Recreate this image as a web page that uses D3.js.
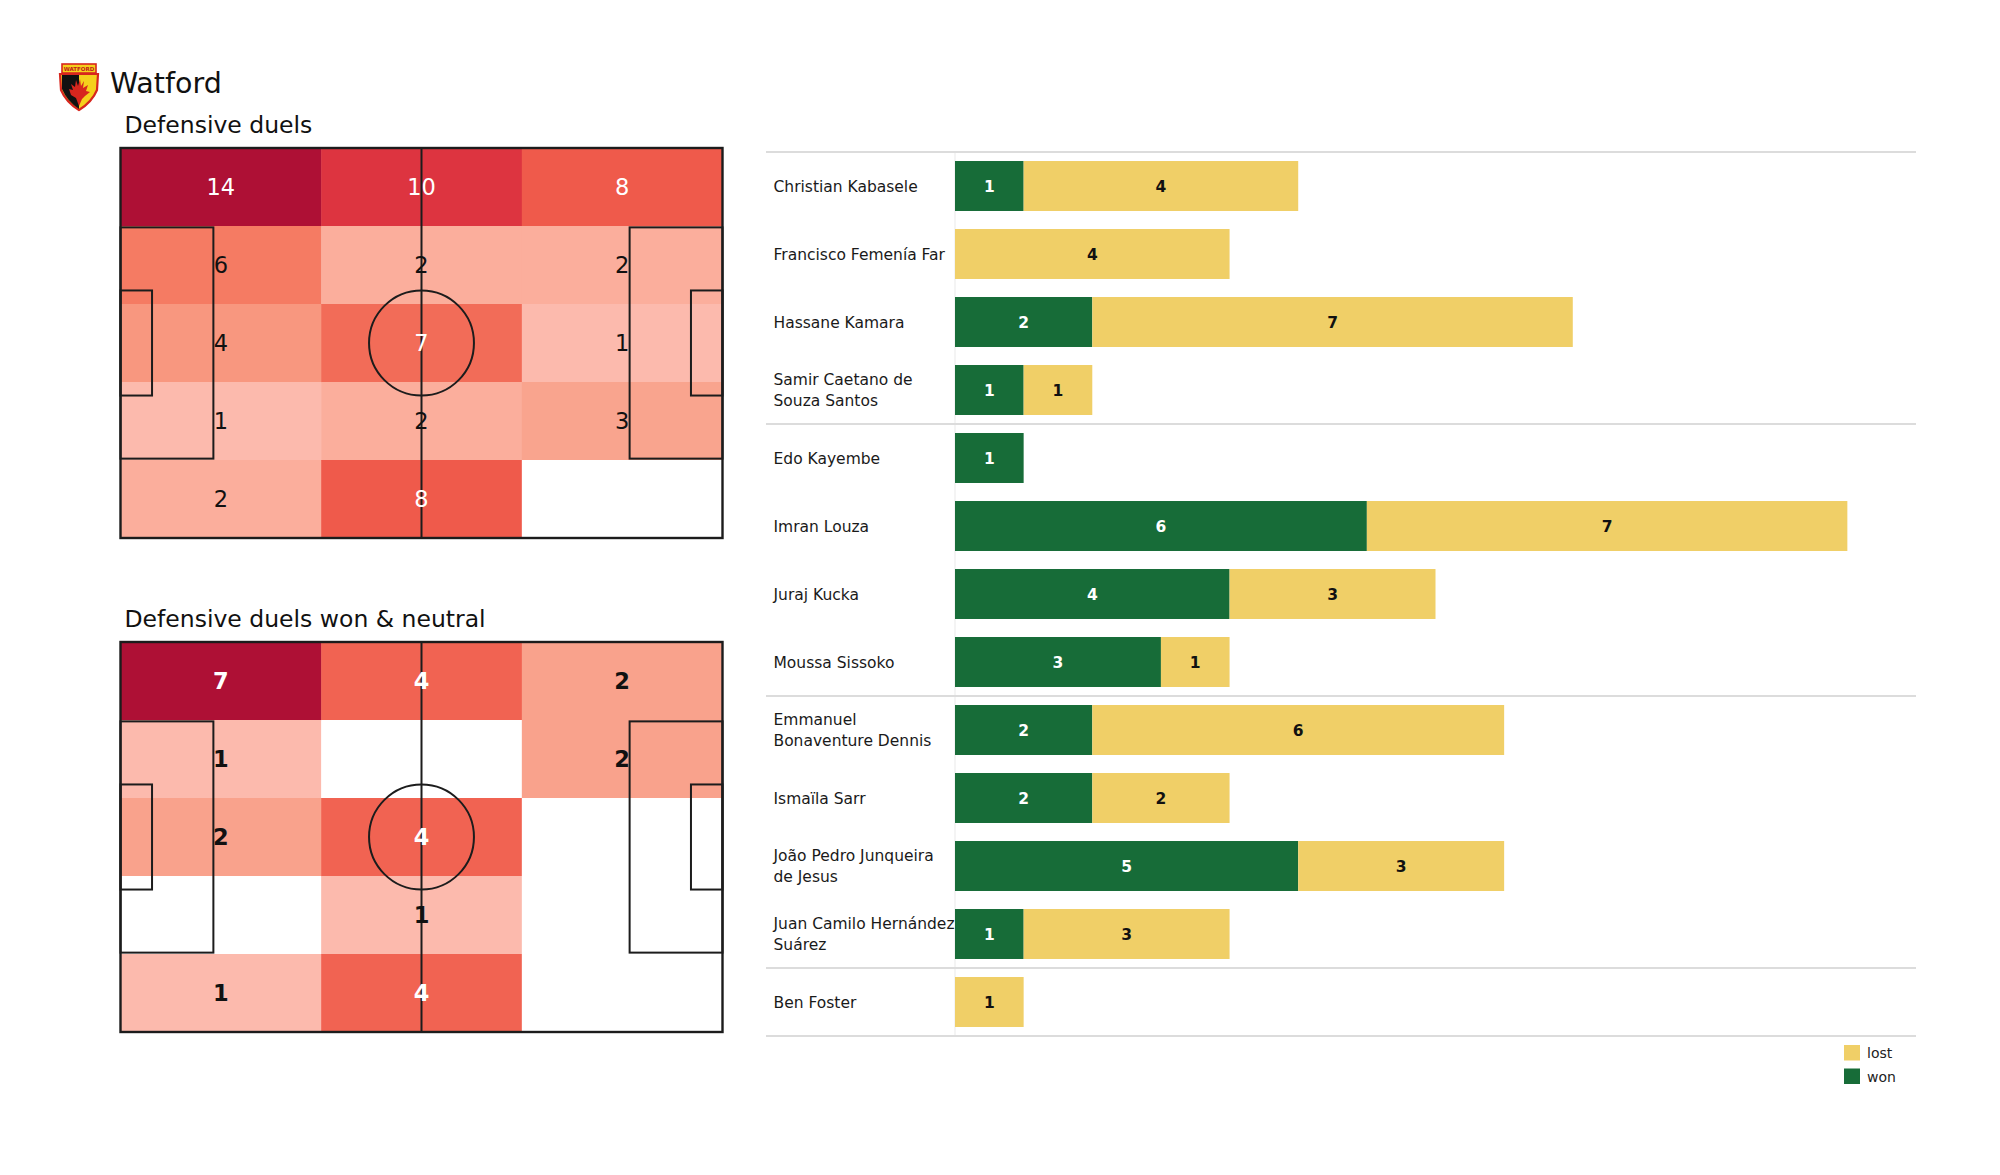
<!DOCTYPE html>
<html>
<head>
<meta charset="utf-8">
<script src="https://cdn.jsdelivr.net/npm/d3@7"></script>
<style>
  html, body { margin: 0; padding: 0; background: #ffffff; }
  svg { display: block; font-family: "DejaVu Sans", sans-serif; }
</style>
</head>
<body>
<svg id="chart" width="2000" height="1175"></svg>
<script>
// ---------------- DATA ----------------
const teamName = "Watford";
const pitch1Title = "Defensive duels";
const pitch2Title = "Defensive duels won & neutral";

// 5 rows (top to bottom) x 3 columns (left to right)
const defensiveDuels = [
  [14, 10, 8],
  [6, 2, 2],
  [4, 7, 1],
  [1, 2, 3],
  [2, 8, 0]
];
const duelsWonNeutral = [
  [7, 4, 2],
  [1, 0, 2],
  [2, 4, 0],
  [0, 1, 0],
  [1, 4, 0]
];

const players = [
  "Christian Kabasele",
  "Francisco Femenía Far",
  "Hassane Kamara",
  "Samir Caetano de Souza Santos",
  "Edo Kayembe",
  "Imran Louza",
  "Juraj Kucka",
  "Moussa Sissoko",
  "Emmanuel Bonaventure Dennis",
  "Ismaïla Sarr",
  "João Pedro Junqueira de Jesus",
  "Juan Camilo Hernández Suárez",
  "Ben Foster"
];
const playerLabelLines = [
  ["Christian Kabasele"],
  ["Francisco Femenía Far"],
  ["Hassane Kamara"],
  ["Samir Caetano de", "Souza Santos"],
  ["Edo Kayembe"],
  ["Imran Louza"],
  ["Juraj Kucka"],
  ["Moussa Sissoko"],
  ["Emmanuel", "Bonaventure Dennis"],
  ["Ismaïla Sarr"],
  ["João Pedro Junqueira", "de Jesus"],
  ["Juan Camilo Hernández", "Suárez"],
  ["Ben Foster"]
];
const wonValues  = [1, 0, 2, 1, 1, 6, 4, 3, 2, 2, 5, 1, 0];
const lostValues = [4, 4, 7, 1, 0, 7, 3, 1, 6, 2, 3, 3, 1];
const positionGroupSizes = [4, 4, 4, 1];
const seriesKeys = ["won", "lost"];
const legendLabels = ["lost", "won"];
const xAxisMax = 14;

// ---------------- STYLE ----------------
const GREEN = "#176c38";
const YELLOW = "#f0cf67";
const heatStops = [0, 0.077, 0.154, 0.231, 0.385, 0.462, 0.538, 0.692, 1];
const heatColors = ["#fcbaad", "#fbae9c", "#f9a48e", "#f8977f", "#f57b63", "#f26c58", "#ef5a4b", "#dd3440", "#ae1035"];
const heat = d3.scaleLinear().domain(heatStops).range(heatColors).interpolate(d3.interpolateRgb).clamp(true);

const svg = d3.select("#chart");

// ---------------- LOGO ----------------
const logo = svg.append("g").attr("transform", "translate(59,62)");
logo.append("path")
  .attr("d", "M1,12 L39,12 L38,28 Q33,40 20,48 Q7,40 2,28 Z")
  .attr("fill", "#f5d01c").attr("stroke", "#d7261e").attr("stroke-width", 2.2);
logo.append("path")
  .attr("d", "M3,13 L20,13 L20,47 Q8,39 3,27 Z")
  .attr("fill", "#111");
logo.append("path")
  .attr("d", "M20,44 L17,36 L12,33 L10,27 L14,28 L12,22 L16,25 L17,18 L19,24 L21,17 L22,24 L25,19 L24,26 L29,23 L27,29 L31,30 L26,34 L23,37 Z")
  .attr("fill", "#d7261e");
logo.append("rect").attr("x", 3).attr("y", 2).attr("width", 34).attr("height", 9)
  .attr("fill", "#f5d01c").attr("stroke", "#d7261e").attr("stroke-width", 1.6);
logo.append("text").attr("x", 20).attr("y", 9).attr("text-anchor", "middle")
  .attr("font-size", 5.5).attr("font-weight", "bold").attr("fill", "#c0201a").text("WATFORD");

svg.append("text").attr("x", 110).attr("y", 93).attr("font-size", 28.5).attr("fill", "#111").text(teamName);

// ---------------- PITCHES ----------------
function drawPitch(values, top, title, bold) {
  const g = svg.append("g");
  const x = d3.scaleLinear().domain([0, 105]).range([120.5, 722.5]);
  const y = d3.scaleLinear().domain([0, 68]).range([top, top + 390]);
  const nonZero = values.flat().filter(v => v > 0);
  const maxV = d3.max(nonZero), minV = d3.min(nonZero);
  const norm = v => (v - minV) / (maxV - minV);
  const colW = 105 / values[0].length, rowH = 68 / values.length;

  g.append("text").attr("x", 124.5).attr("y", top - 15).attr("font-size", 23.5).attr("fill", "#111").text(title);

  const cells = [];
  values.forEach((row, r) => row.forEach((v, c) => cells.push({ r, c, v })));

  g.selectAll("rect.cell").data(cells).join("rect")
    .attr("class", "cell")
    .attr("x", d => x(d.c * colW))
    .attr("y", d => y(d.r * rowH))
    .attr("width", d => x((d.c + 1) * colW) - x(d.c * colW) + 0.5)
    .attr("height", d => y((d.r + 1) * rowH) - y(d.r * rowH) + 0.5)
    .attr("fill", d => d.v > 0 ? heat(norm(d.v)) : "#ffffff");

  const stroke = "#1c1c1c";
  const addRect = (x0, y0, x1, y1, sw) => g.append("rect")
    .attr("x", x(x0)).attr("y", y(y0)).attr("width", x(x1) - x(x0)).attr("height", y(y1) - y(y0))
    .attr("fill", "none").attr("stroke", stroke).attr("stroke-width", sw || 2);

  addRect(0, 0, 105, 68, 2.4);
  g.append("line").attr("x1", x(52.5)).attr("x2", x(52.5)).attr("y1", y(0)).attr("y2", y(68))
    .attr("stroke", stroke).attr("stroke-width", 2);
  g.append("ellipse").attr("cx", x(52.5)).attr("cy", y(34))
    .attr("rx", x(9.15) - x(0)).attr("ry", y(9.15) - y(0))
    .attr("fill", "none").attr("stroke", stroke).attr("stroke-width", 2);
  addRect(0, 13.84, 16.2, 54.16);
  addRect(88.8, 13.84, 105, 54.16);
  addRect(0, 24.84, 5.5, 43.16);
  addRect(99.5, 24.84, 105, 43.16);

  g.selectAll("text.val").data(cells.filter(d => d.v > 0)).join("text")
    .attr("class", "val")
    .attr("x", d => x((d.c + 0.5) * colW))
    .attr("y", d => y((d.r + 0.5) * rowH))
    .attr("dy", "0.36em")
    .attr("text-anchor", "middle")
    .attr("font-size", 22.5)
    .attr("font-weight", bold ? "bold" : "normal")
    .attr("fill", d => norm(d.v) >= 0.42 ? "#ffffff" : "#111111")
    .text(d => d.v);
}

drawPitch(defensiveDuels, 148, pitch1Title, false);
drawPitch(duelsWonNeutral, 642, pitch2Title, true);

// ---------------- BAR CHART ----------------
const barData = players.map((p, i) => ({ player: p, won: wonValues[i], lost: lostValues[i] }));
const xb = d3.scaleLinear().domain([0, xAxisMax]).range([955, 1916]);
const yb = d3.scaleBand().domain(players).range([152, 1036]).paddingInner(0.265).paddingOuter(0.1325);
const colorB = d3.scaleOrdinal().domain(seriesKeys).range([GREEN, YELLOW]);

const bars = svg.append("g");
// faint axis line
bars.append("line").attr("x1", xb(0)).attr("x2", xb(0)).attr("y1", 152).attr("y2", 1036)
  .attr("stroke", "#f1f1f1").attr("stroke-width", 1.5);

// group separator lines
const step = yb.step();
const boundaries = [0, ...Array.from(d3.cumsum(positionGroupSizes))];
bars.selectAll("line.sep").data(boundaries).join("line")
  .attr("class", "sep")
  .attr("x1", 766).attr("x2", 1916)
  .attr("y1", d => yb.range()[0] + d * step)
  .attr("y2", d => yb.range()[0] + d * step)
  .attr("stroke", "#dcdcdc").attr("stroke-width", 2);

const stacked = d3.stack().keys(seriesKeys)(barData);
stacked.forEach(series => {
  const key = series.key;
  const segs = series.filter(d => d[1] - d[0] > 0);
  bars.selectAll("rect.b-" + key).data(segs).join("rect")
    .attr("class", "b-" + key)
    .attr("x", d => xb(d[0]))
    .attr("y", d => yb(d.data.player))
    .attr("width", d => xb(d[1]) - xb(d[0]))
    .attr("height", yb.bandwidth())
    .attr("fill", colorB(key));
  bars.selectAll("text.t-" + key).data(segs).join("text")
    .attr("class", "t-" + key)
    .attr("x", d => (xb(d[0]) + xb(d[1])) / 2)
    .attr("y", d => yb(d.data.player) + yb.bandwidth() / 2)
    .attr("dy", "0.36em")
    .attr("text-anchor", "middle")
    .attr("font-size", 15.5)
    .attr("font-weight", "bold")
    .attr("fill", key === "won" ? "#ffffff" : "#111111")
    .text(d => d[1] - d[0]);
});

// player labels
players.forEach((p, i) => {
  const lines = playerLabelLines[i];
  const cy = yb(p) + yb.bandwidth() / 2;
  const lh = 20.5;
  const t = bars.append("text").attr("x", 773.5).attr("font-size", 15.5).attr("fill", "#1a1a1a");
  lines.forEach((ln, k) => {
    t.append("tspan").attr("x", 773.5)
      .attr("y", cy + (k - (lines.length - 1) / 2) * lh)
      .attr("dy", "0.36em").text(ln);
  });
});

// legend
const legend = svg.append("g");
const legendColors = { lost: YELLOW, won: GREEN };
legendLabels.forEach((lab, i) => {
  const yy = 1045 + i * 23.5;
  legend.append("rect").attr("x", 1844).attr("y", yy).attr("width", 16).attr("height", 15.5).attr("fill", legendColors[lab]);
  legend.append("text").attr("x", 1867).attr("y", yy + 8).attr("dy", "0.36em")
    .attr("font-size", 14).attr("fill", "#222").text(lab);
});
</script>
</body>
</html>
